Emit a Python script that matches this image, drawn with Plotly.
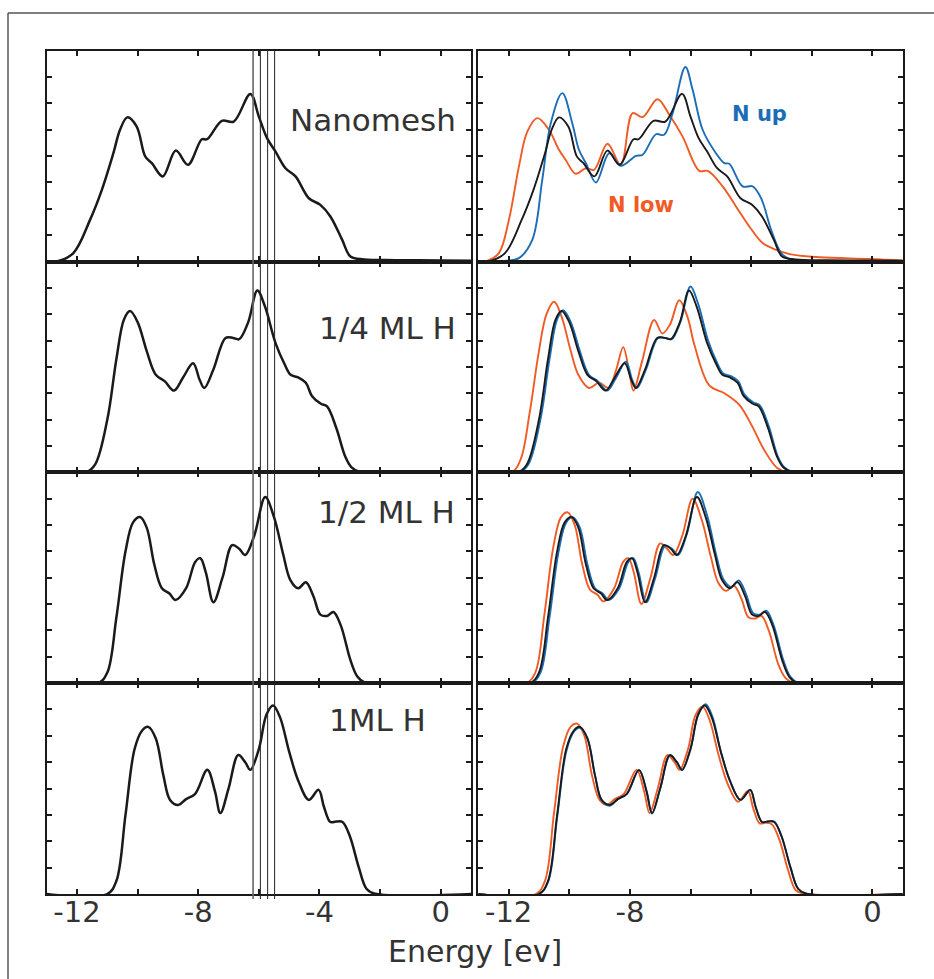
import plotly.graph_objects as go

W, H = 934, 979

# ---------------- data (energy in eV, DOS in tick units 0..8) ----------------
nano_E = [-13, -12.67, -12.12, -11.57, -11.18, -10.8, -10.58, -10.34, -10.03, -9.75, -9.53, -9.17, -8.74, -8.34,
          -7.88, -7.71, -7.22, -6.83, -6.28, -6.0, -5.73, -5.45, -5.12, -4.79, -4.35, -3.97, -3.64, -3.25, -2.98,
          -2.53, -1.5, 0, 1]
nano_v = [0, 0, 0.32, 1.58, 2.72, 4.11, 5.0, 5.47, 5.12, 3.99, 3.73, 3.23, 4.21, 3.67, 4.64, 4.64, 5.34, 5.31,
          6.36, 5.5, 4.68, 4.17, 3.54, 3.23, 2.4, 2.15, 1.71, 0.82, 0.19, 0.08, 0.05, 0.04, 0.03]

quarter_E = [-13, -11.7, -11.4, -11.0, -10.7, -10.45, -10.25, -10.0, -9.7, -9.4, -9.1, -8.8, -8.5, -8.17, -7.95,
             -7.8, -7.5, -7.1, -6.85, -6.65, -6.35, -6.05, -5.8, -5.45, -5.15, -4.95, -4.7, -4.45, -4.25, -3.95,
             -3.75, -3.45, -3.15, -2.95, -2.7, -2.3, 1]
quarter_v = [0, 0, 0.3, 2.0, 4.3, 5.8, 6.12, 5.7, 4.6, 3.7, 3.45, 3.1, 3.6, 4.14, 3.5, 3.2, 3.9, 5.1, 5.1, 5.05,
             5.7, 6.9, 6.3, 4.9, 4.1, 3.7, 3.6, 3.4, 2.9, 2.6, 2.5, 1.7, 0.6, 0.2, 0.03, 0, 0]

half_E = [-13, -11.3, -11.0, -10.7, -10.4, -10.15, -9.92, -9.7, -9.45, -9.2, -8.95, -8.75, -8.4, -8.1, -7.93,
          -7.75, -7.5, -7.2, -6.88, -6.65, -6.45, -6.15, -5.79, -5.5, -5.2, -4.96, -4.7, -4.45, -4.2, -3.97,
          -3.75, -3.54, -3.3, -2.98, -2.75, -2.5, 1]
half_v = [0, 0, 0.4, 2.5, 5.0, 6.1, 6.3, 5.9, 4.5, 3.6, 3.4, 3.15, 3.6, 4.6, 4.74, 4.2, 3.07, 4.0, 5.24, 5.1,
          4.86, 5.6, 7.06, 6.3, 4.9, 3.91, 3.6, 3.83, 3.3, 2.6, 2.55, 2.7, 2.2, 0.88, 0.25, 0.02, 0]

full_E = [-13, -11.0, -10.7, -10.4, -10.1, -9.85, -9.65, -9.4, -9.15, -8.93, -8.66, -8.4, -8.1, -7.7, -7.45,
          -7.27, -7.0, -6.68, -6.45, -6.28, -6.0, -5.75, -5.53, -5.3, -5.0, -4.7, -4.35, -4.03, -3.85, -3.64,
          -3.45, -3.24, -3.0, -2.7, -2.45, -2.2, 1]
full_v = [0, 0, 0.5, 3.0, 5.5, 6.2, 6.34, 5.9, 4.5, 3.57, 3.38, 3.6, 3.8, 4.71, 3.9, 3.07, 4.0, 5.27, 5.0, 4.71,
          5.5, 6.8, 7.15, 6.7, 5.4, 4.3, 3.57, 3.95, 3.3, 2.73, 2.75, 2.73, 2.2, 1.0, 0.2, 0.02, 0]

# N up (blue) / N low (orange), right column
nano_up_E = [-13, -12.21, -11.66, -11.22, -10.89, -10.61, -10.23, -9.9, -9.68, -9.45, -9.12, -8.68, -8.3, -7.8,
             -7.58, -7.14, -6.87, -6.59, -6.17, -5.93, -5.6, -5.16, -4.88, -4.72, -4.28, -3.95, -3.67, -3.34,
             -3.01, -2.73, -2.3, 1]
nano_up_v = [0, 0.02, 0.13, 0.82, 3.1, 5.25, 6.39, 5.25, 4.24, 3.73, 3.0, 4.11, 3.63, 4.01, 4.05, 4.83, 4.81,
             5.63, 7.38, 6.52, 5.0, 4.11, 3.73, 3.71, 2.85, 2.85, 2.4, 1.2, 0.32, 0.09, 0.02, 0.02]
nano_low_E = [-13, -12.71, -12.32, -11.99, -11.66, -11.38, -11.05, -10.67, -10.34, -10.12, -9.79, -9.45, -9.18,
              -8.74, -8.3, -7.91, -7.58, -7.09, -6.7, -6.26, -5.71, -5.43, -4.94, -4.5, -4.06, -3.62, -3.17,
              -2.73, -1.74, -0.09, 1]
nano_low_v = [0, 0.02, 0.32, 1.58, 3.61, 4.94, 5.44, 5.0, 4.24, 3.86, 3.33, 3.54, 3.48, 4.47, 3.67, 5.63, 5.48,
              6.16, 5.57, 4.74, 3.44, 3.44, 2.85, 2.09, 1.33, 0.70, 0.44, 0.28, 0.16, 0.1, 0.04]

quarter_up_E = [-13, -11.65, -11.35, -10.95, -10.65, -10.4, -10.2, -9.95, -9.65, -9.35, -9.05, -8.75, -8.45,
                -8.13, -7.92, -7.77, -7.47, -7.07, -6.82, -6.62, -6.32, -6.0, -5.75, -5.42, -5.12, -4.92, -4.67,
                -4.42, -4.22, -3.92, -3.72, -3.42, -3.12, -2.92, -2.67, -2.27, 1]
quarter_up_v = [0, 0, 0.3, 2.0, 4.3, 5.8, 6.15, 5.7, 4.6, 3.7, 3.45, 3.1, 3.6, 4.2, 3.5, 3.2, 3.9, 5.1, 5.1,
                5.05, 5.75, 7.05, 6.4, 5.0, 4.15, 3.75, 3.65, 3.45, 2.95, 2.65, 2.55, 1.75, 0.6, 0.2, 0.03, 0, 0]
quarter_low_E = [-13, -11.9, -11.6, -11.3, -11.0, -10.75, -10.5, -10.25, -9.95, -9.7, -9.35, -9.02, -8.7,
                 -8.45, -8.22, -8.02, -7.88, -7.6, -7.2, -6.93, -6.68, -6.37, -6.1, -5.87, -5.38, -4.88, -4.39,
                 -3.99, -3.56, -3.13, -2.8, 1]
quarter_low_v = [0, 0, 0.5, 2.3, 4.6, 6.0, 6.47, 5.9, 4.6, 3.7, 3.2, 3.4, 3.2, 3.9, 4.75, 3.8, 3.1, 4.2, 5.78,
                 5.27, 5.6, 6.53, 5.9, 4.83, 3.3, 3.0, 2.56, 1.8, 0.83, 0.15, 0, 0]

half_up_E = [-13, -11.25, -10.95, -10.65, -10.35, -10.1, -9.88, -9.65, -9.4, -9.15, -8.9, -8.7, -8.35, -8.05,
             -7.89, -7.71, -7.46, -7.16, -6.84, -6.61, -6.41, -6.11, -5.76, -5.46, -5.16, -4.92, -4.66, -4.41,
             -4.16, -3.93, -3.71, -3.5, -3.26, -2.94, -2.71, -2.46, 1]
half_up_v = [0, 0, 0.4, 2.5, 5.0, 6.1, 6.3, 5.9, 4.5, 3.6, 3.4, 3.15, 3.6, 4.6, 4.74, 4.2, 3.07, 4.0, 5.2, 5.1,
             4.86, 5.7, 7.25, 6.4, 4.9, 3.95, 3.65, 3.9, 3.35, 2.65, 2.6, 2.75, 2.2, 0.88, 0.25, 0.02, 0]
half_low_E = [-13, -11.42, -11.12, -10.82, -10.52, -10.27, -10.05, -9.82, -9.57, -9.32, -9.07, -8.87, -8.52,
              -8.22, -8.05, -7.87, -7.62, -7.32, -7.0, -6.77, -6.57, -6.27, -5.93, -5.63, -5.33, -5.08, -4.82,
              -4.57, -4.32, -4.09, -3.87, -3.66, -3.42, -3.1, -2.87, -2.62, 1]
half_low_v = [0, 0, 0.4, 2.6, 5.2, 6.3, 6.48, 6.0, 4.5, 3.55, 3.35, 3.1, 3.6, 4.6, 4.74, 4.2, 3.0, 4.0, 5.3,
              5.1, 4.86, 5.6, 7.0, 6.2, 4.8, 3.8, 3.5, 3.7, 3.2, 2.5, 2.45, 2.55, 2.0, 0.7, 0.2, 0.02, 0]

full_up_E = [-13, -11.0, -10.7, -10.4, -10.1, -9.85, -9.65, -9.4, -9.15, -8.93, -8.66, -8.4, -8.1, -7.7, -7.45,
             -7.27, -7.0, -6.68, -6.45, -6.28, -6.0, -5.75, -5.5, -5.27, -5.0, -4.7, -4.35, -4.03, -3.85, -3.64,
             -3.45, -3.24, -3.0, -2.7, -2.45, -2.2, 1]
full_up_v = [0, 0, 0.45, 2.9, 5.4, 6.15, 6.3, 5.9, 4.5, 3.55, 3.35, 3.6, 3.8, 4.7, 3.9, 3.05, 4.0, 5.25, 5.0,
             4.7, 5.5, 6.8, 7.2, 6.7, 5.4, 4.3, 3.57, 3.95, 3.3, 2.73, 2.75, 2.75, 2.2, 1.0, 0.2, 0.02, 0]
full_low_E = [-13, -11.1, -10.8, -10.5, -10.2, -9.95, -9.74, -9.5, -9.25, -9.0, -8.75, -8.5, -8.2, -7.78, -7.53,
              -7.35, -7.08, -6.76, -6.53, -6.36, -6.08, -5.83, -5.6, -5.37, -5.08, -4.78, -4.43, -4.11, -3.93,
              -3.72, -3.53, -3.32, -3.08, -2.78, -2.53, -2.28, 1]
full_low_v = [0, 0, 0.5, 3.1, 5.6, 6.35, 6.46, 6.0, 4.5, 3.57, 3.38, 3.6, 3.8, 4.71, 3.9, 3.07, 4.0, 5.27, 5.0,
              4.71, 5.5, 6.8, 7.1, 6.6, 5.3, 4.2, 3.5, 3.9, 3.25, 2.68, 2.7, 2.65, 2.1, 0.9, 0.15, 0.02, 0]

panel_labels = ["Nanomesh", "1/4 ML H", "1/2 ML H", "1ML H"]
totals = [(nano_E, nano_v), (quarter_E, quarter_v), (half_E, half_v), (full_E, full_v)]
ups = [(nano_up_E, nano_up_v), (quarter_up_E, quarter_up_v), (half_up_E, half_up_v), (full_up_E, full_up_v)]
lows = [(nano_low_E, nano_low_v), (quarter_low_E, quarter_low_v), (half_low_E, half_low_v), (full_low_E, full_low_v)]

marker_energies = [-6.19, -5.95, -5.71, -5.48]
x_ticks = [-12, -10, -8, -6, -4, -2, 0]
left_ticktext = ["-12", "", "-8", "", "-4", "", "0"]
right_ticktext = ["-12", "", "-8", "", "", "", "0"]

# ---------------- layout ----------------
BLACK = "#1a1a1a"
BLUE = "#1b6db6"
ORANGE = "#f15a24"
TEXT = "#333333"

def px_x(p):
    return p / W

def px_y(p):
    return 1 - p / H

col_dom = [[px_x(46.7), px_x(471)], [px_x(478.3), px_x(902.7)]]
row_edges = [50.7, 261.5, 472.3, 683.1, 894.0]

fig = go.Figure()
layout = dict(width=W, height=H, margin=dict(l=0, r=0, t=0, b=0), showlegend=False,
              paper_bgcolor="white", plot_bgcolor="white",
              font=dict(family="DejaVu Sans", color=TEXT))

axis_n = 0
for r in range(4):
    for c in range(2):
        axis_n += 1
        sfx = "" if axis_n == 1 else str(axis_n)
        bottom = (r == 3)
        layout["xaxis" + sfx] = dict(
            domain=col_dom[c], range=[-13, 1], anchor="y" + sfx,
            showline=True, linewidth=2.2, linecolor=BLACK, mirror="allticks",
            ticks="inside", ticklen=5, tickwidth=1.5, tickcolor=BLACK,
            tickvals=x_ticks, ticktext=(left_ticktext if c == 0 else right_ticktext),
            showticklabels=bottom, tickfont=dict(size=29, color=TEXT), ticklabelstandoff=-9,
            showgrid=False, zeroline=False, fixedrange=True)
        layout["yaxis" + sfx] = dict(
            domain=[px_y(row_edges[r + 1]), px_y(row_edges[r])], range=[0, 8], anchor="x" + sfx,
            showline=True, linewidth=2.2, linecolor=BLACK, mirror="allticks",
            ticks="inside", ticklen=5, tickwidth=1.5, tickcolor=BLACK, dtick=1, tick0=0,
            showticklabels=False, showgrid=False, zeroline=False, fixedrange=True)
        xa, ya = "x" + sfx, "y" + sfx
        if c == 0:
            E, v = totals[r]
            fig.add_trace(go.Scatter(x=E, y=v, xaxis=xa, yaxis=ya, mode="lines",
                                     line=dict(color=BLACK, width=2.5, shape="spline", smoothing=1.0)))
        else:
            for (E, v), col in ((lows[r], ORANGE), (ups[r], BLUE), (totals[r], BLACK)):
                fig.add_trace(go.Scatter(x=E, y=v, xaxis=xa, yaxis=ya, mode="lines",
                                         line=dict(color=col, width=1.9, shape="spline", smoothing=1.0)))

fig.update_layout(**layout)

# vertical marker lines through the left column
shapes = []
for i, e in enumerate(marker_energies):
    shapes.append(dict(type="line", xref="x", yref="paper", x0=e, x1=e,
                       y0=px_y(899), y1=px_y(50.7),
                       line=dict(color="#666666" if i == 0 else "#222222", width=1.6 if i == 0 else 1.0)))
# outer page frame
shapes.append(dict(type="line", xref="paper", yref="paper", x0=px_x(8), x1=1, y0=px_y(13), y1=px_y(13),
                   line=dict(color="#555555", width=1.5)))
shapes.append(dict(type="line", xref="paper", yref="paper", x0=px_x(8), x1=px_x(8), y0=0, y1=px_y(13),
                   line=dict(color="#555555", width=1.5)))
fig.update_layout(shapes=shapes)

ann = []
label_pos = [(458, 120), (458, 328), (457, 512), (428, 720)]
for t, (xr, yc) in zip(panel_labels, label_pos):
    ann.append(dict(text=t, x=px_x(xr), y=px_y(yc), xref="paper", yref="paper", xanchor="right",
                    yanchor="middle", showarrow=False, font=dict(size=31, color=TEXT)))
ann.append(dict(text="<b>N up</b>", x=px_x(759), y=px_y(114), xref="paper", yref="paper", xanchor="center",
                yanchor="middle", showarrow=False, font=dict(size=21, color=BLUE)))
ann.append(dict(text="<b>N low</b>", x=px_x(641), y=px_y(205), xref="paper", yref="paper", xanchor="center",
                yanchor="middle", showarrow=False, font=dict(size=21, color=ORANGE)))
ann.append(dict(text="Energy [ev]", x=px_x(475), y=px_y(951), xref="paper", yref="paper", xanchor="center",
                yanchor="middle", showarrow=False, font=dict(size=30, color=TEXT)))
fig.update_layout(annotations=ann)

fig.write_html("out.html")
